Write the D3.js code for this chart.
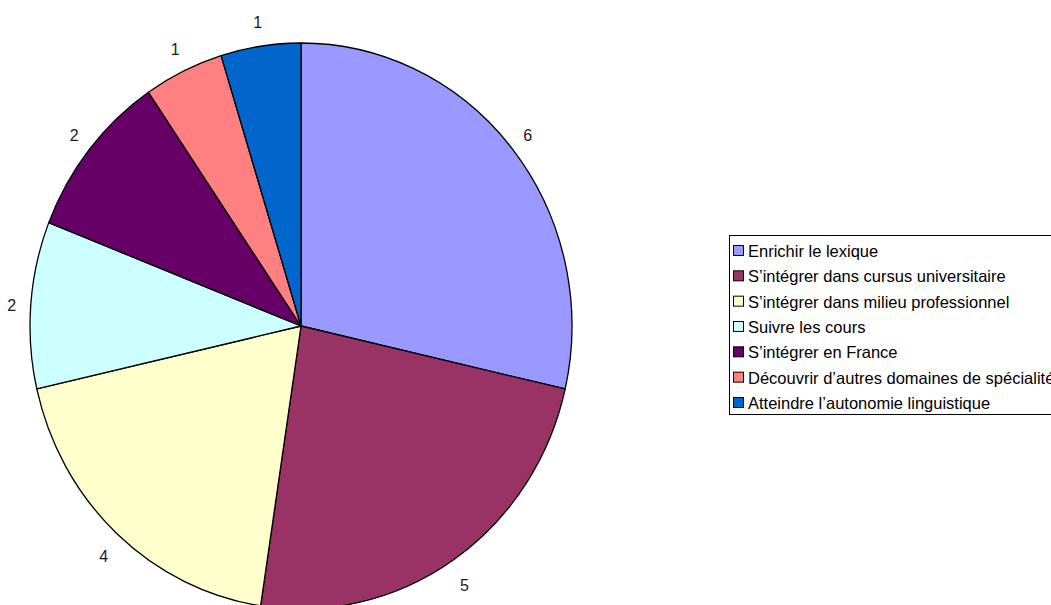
<!DOCTYPE html>
<html>
<head>
<meta charset="utf-8">
<script src="https://cdn.jsdelivr.net/npm/d3@7/dist/d3.min.js"></script>
<style>
  html, body { margin: 0; padding: 0; background: #fff; }
  svg { display: block; font-family: "Liberation Sans", Arial, sans-serif; }
</style>
</head>
<body>
<svg id="chart" width="1051" height="605"></svg>
<script>
// Objectifs déclarés (nombre de réponses)
const categories = [
  "Enrichir le lexique",
  "S\u2019intégrer dans cursus universitaire",
  "S\u2019intégrer dans milieu professionnel",
  "Suivre les cours",
  "S\u2019intégrer en France",
  "Découvrir d\u2019autres domaines de spécialité",
  "Atteindre l\u2019autonomie linguistique"
];
const values = [6, 5, 4, 2, 2, 1, 1];
const colors = ["#9999FF", "#993366", "#FFFFCC", "#CCFFFF", "#660066", "#FF8080", "#0066CC"];

const svg = d3.select("#chart");

// Pie geometry (slightly elliptical plot area)
const cx = 301, cy = 326;
const rx = 271, ry = 283;
const labelRx = 290, labelRy = 310, labelShift = 3;

const pie = d3.pie().sort(null).value(d => d.value);
const arcs = pie(categories.map((c, i) => ({ name: c, value: values[i], color: colors[i] })));
const arc = d3.arc().innerRadius(0).outerRadius(rx);

const g = svg.append("g")
  .attr("transform", `translate(${cx},${cy}) scale(1,${ry / rx})`);

g.selectAll("path")
  .data(arcs)
  .join("path")
  .attr("d", arc)
  .attr("fill", d => d.data.color)
  .attr("stroke", "#000")
  .attr("stroke-width", 1.3)
  .attr("stroke-linejoin", "round")
  .attr("vector-effect", "non-scaling-stroke");

// Value labels outside each slice
svg.append("g")
  .selectAll("text")
  .data(arcs)
  .join("text")
  .attr("x", d => cx + labelRx * Math.sin((d.startAngle + d.endAngle) / 2))
  .attr("y", d => cy + labelShift - labelRy * Math.cos((d.startAngle + d.endAngle) / 2))
  .attr("dy", "0.35em")
  .attr("text-anchor", "middle")
  .attr("font-size", 16)
  .attr("fill", "#1a1a1a")
  .text(d => d.data.value);

// Legend
const legend = svg.append("g");
legend.append("rect")
  .attr("x", 729.5).attr("y", 235.5)
  .attr("width", 340).attr("height", 179)
  .attr("fill", "#fff")
  .attr("stroke", "#000")
  .attr("stroke-width", 1);

const rowY = d3.scaleLinear().domain([0, categories.length - 1]).range([251, 403]);

const items = legend.selectAll("g.item")
  .data(categories)
  .join("g")
  .attr("class", "item")
  .attr("transform", (d, i) => `translate(0,${rowY(i)})`);

items.append("rect")
  .attr("x", 733.5).attr("y", -5.5)
  .attr("width", 10).attr("height", 10)
  .attr("fill", (d, i) => colors[i])
  .attr("stroke", "#000")
  .attr("stroke-width", 1);

items.append("text")
  .attr("x", 748)
  .attr("y", 0)
  .attr("dy", "0.36em")
  .attr("font-size", 16.5)
  .attr("fill", "#000")
  .text(d => d);
</script>
</body>
</html>
